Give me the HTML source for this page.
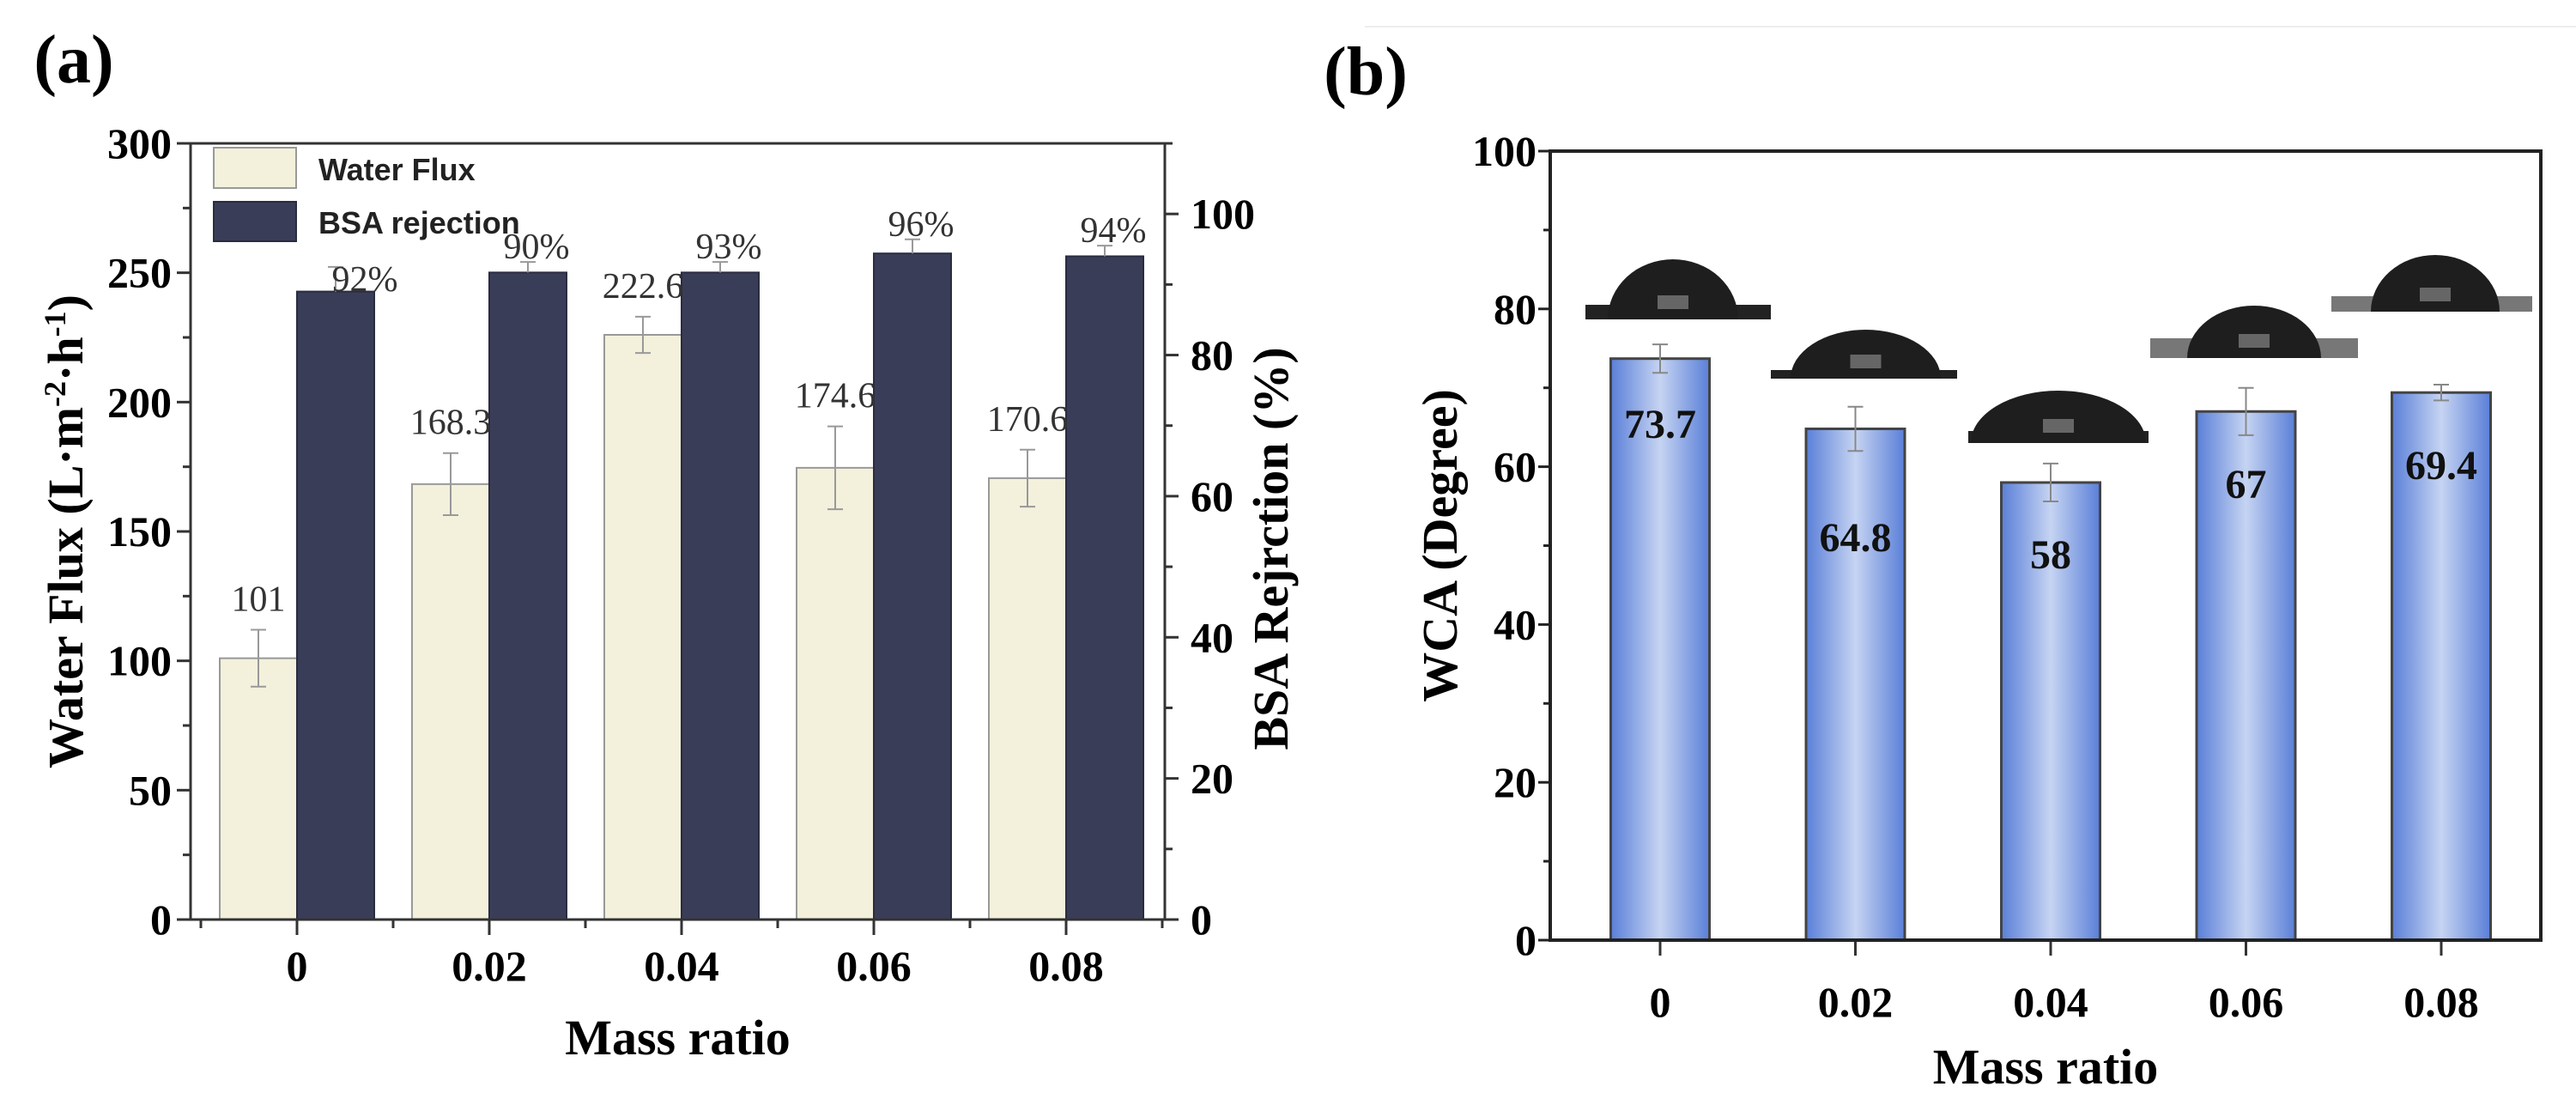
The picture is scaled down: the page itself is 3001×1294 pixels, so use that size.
<!DOCTYPE html>
<html><head><meta charset="utf-8"><style>
html,body{margin:0;padding:0;background:#fff}
svg{display:block}
text{font-family:"Liberation Serif",serif}
</style></head><body>
<svg id="fig" width="3001" height="1294" viewBox="0 0 3001 1294" xmlns="http://www.w3.org/2000/svg">
<defs>
<linearGradient id="barGrad" x1="0" x2="1" y1="0" y2="0">
<stop offset="0" stop-color="#5a7fd8"/><stop offset="0.5" stop-color="#c6d4f2"/><stop offset="1" stop-color="#5a7fd8"/>
</linearGradient>
</defs>
<line x1="1590" y1="31" x2="3001" y2="31" stroke="#eeeeee" stroke-width="2"/>
<g id="pa"></g>
<g id="pb"></g>
</svg>
<script>
// Panel (a) data
const catsA = ["0","0.02","0.04","0.06","0.08"];
const fluxVals = [101, 168.3, 226, 174.6, 170.6];
const fluxErr = [11, 12, 7, 16, 11];
const fluxLabels = ["101","168.3","222.6","174.6","170.6"];
const bsaVals = [89, 91.7, 91.7, 94.4, 94];
const bsaErr = [3.5, 1.5, 1.5, 2, 1.5];
const bsaLabels = ["92%","90%","93%","96%","94%"];
const fluxTicks = [0,50,100,150,200,250,300];
const bsaTicks = [0,20,40,60,80,100];
// Panel (b) data
const catsB = ["0","0.02","0.04","0.06","0.08"];
const wcaVals = [73.7, 64.8, 58, 67, 69.4];
const wcaErr = [1.8, 2.8, 2.4, 3, 1];
const wcaLabels = ["73.7","64.8","58","67","69.4"];
const wcaTicks = [0,20,40,60,80,100];

const NS="http://www.w3.org/2000/svg";
function mk(parent, tag, attrs, txt){const e=document.createElementNS(NS,tag);for(const k in attrs)e.setAttribute(k,attrs[k]);if(txt!==undefined)e.textContent=txt;parent.appendChild(e);return e;}

// ---------- Panel A ----------
(function(){
const g=document.getElementById('pa');
const L=222,R=1357,T=167,B=1071;
const yF=v=>B-(v/300)*(B-T);
const yR=v=>B-(v/110)*(B-T);
const xC=i=>346+i*224;
const bw=90;
let e=mk(g,'text',{x:86,y:96,'font-size':80,'font-weight':'bold','text-anchor':'middle'},'(a)');


catsA.forEach((c,i)=>{
  const x=xC(i);
  let r=mk(g,'rect',{x:x-bw,y:yF(fluxVals[i]),width:bw,height:B-yF(fluxVals[i]),fill:'#f3f0dc',stroke:'#999','stroke-width':2});
  
  
  let r2=mk(g,'rect',{x:x,y:yR(bsaVals[i]),width:bw,height:B-yR(bsaVals[i]),fill:'#3a3d58',stroke:'#2a2c40','stroke-width':2});
  
  
  const fx=x-bw/2, bx=x+bw/2;
  const eb1=mk(g,'path',{d:`M${fx},${yF(fluxVals[i]+fluxErr[i])}V${yF(fluxVals[i]-fluxErr[i])}M${fx-9},${yF(fluxVals[i]+fluxErr[i])}h18M${fx-9},${yF(fluxVals[i]-fluxErr[i])}h18`,stroke:'#999','stroke-width':2,fill:'none'});
  
  
  const eb2=mk(g,'path',{d:`M${bx},${yR(bsaVals[i]+bsaErr[i])}V${yR(bsaVals[i])}M${bx-9},${yR(bsaVals[i]+bsaErr[i])}h18`,stroke:'#999','stroke-width':2,fill:'none'});
  
  
  let t=mk(g,'text',{x:fx,y:yF(fluxVals[i]+fluxErr[i])-22,'font-size':42,'text-anchor':'middle',fill:'#333'},fluxLabels[i]);
  
  
  let t2=mk(g,'text',{x:bx+(i==0?34:10),y:yR(bsaVals[i]+bsaErr[i])+(i==0?28:-4),'font-size':42,'text-anchor':'middle',fill:'#333'},bsaLabels[i]);
  
  
  let xl=mk(g,'text',{x:x,y:1142,'font-size':50,'font-weight':'bold','text-anchor':'middle'},c);
  
  
  mk(g,'line',{x1:x,y1:B,x2:x,y2:B+18,stroke:'#333','stroke-width':3});
  mk(g,'line',{x1:x+112,y1:B,x2:x+112,y2:B+10,stroke:'#333','stroke-width':3});
  if(i==0) mk(g,'line',{x1:x-112,y1:B,x2:x-112,y2:B+10,stroke:'#333','stroke-width':3});
});
let ax=mk(g,'path',{d:`M${L},${T}H${R}V${B}H${L}Z`,fill:'none',stroke:'#333','stroke-width':3});


fluxTicks.forEach((v,i)=>{
  mk(g,'line',{x1:L-16,y1:yF(v),x2:L,y2:yF(v),stroke:'#333','stroke-width':3});
  if(v<300) mk(g,'line',{x1:L-9,y1:yF(v+25),x2:L,y2:yF(v+25),stroke:'#333','stroke-width':3});
  let t=mk(g,'text',{x:L-22,y:yF(v)+17,'font-size':50,'font-weight':'bold','text-anchor':'end'},String(v));
  
  
});
bsaTicks.forEach((v,i)=>{
  mk(g,'line',{x1:R,y1:yR(v),x2:R+16,y2:yR(v),stroke:'#333','stroke-width':3});
  mk(g,'line',{x1:R,y1:yR(v+10),x2:R+9,y2:yR(v+10),stroke:'#333','stroke-width':3});
  let t=mk(g,'text',{x:R+30,y:yR(v)+17,'font-size':50,'font-weight':'bold','text-anchor':'start'},String(v));
  
  
});
let yt=mk(g,'text',{x:0,y:0,'font-size':58,'font-weight':'bold','text-anchor':'middle',transform:`translate(96,${(T+B)/2}) rotate(-90)`});
yt.innerHTML='Water Flux (L·m<tspan baseline-shift="super" font-size="36">-2</tspan>·h<tspan baseline-shift="super" font-size="36">-1</tspan>)';


let yt2=mk(g,'text',{x:0,y:0,'font-size':58,'font-weight':'bold','text-anchor':'middle',transform:`translate(1500,${(T+B)/2+20}) rotate(-90)`},'BSA Rejrction (%)');


let xt=mk(g,'text',{x:(L+R)/2,y:1228,'font-size':58,'font-weight':'bold','text-anchor':'middle'},'Mass ratio');


const lg=mk(g,'g',{});


let l1=mk(lg,'rect',{x:249,y:172,width:96,height:47,fill:'#f3f0dc',stroke:'#999','stroke-width':2});


let l2=mk(lg,'rect',{x:249,y:235,width:96,height:46,fill:'#3a3d58',stroke:'#2a2c40','stroke-width':2});


let lt1=mk(lg,'text',{x:371,y:210,'font-size':36,'font-weight':'bold',style:'font-family:"Liberation Sans",sans-serif',fill:'#222'},'Water Flux');


let lt2=mk(lg,'text',{x:371,y:272,'font-size':36,'font-weight':'bold',style:'font-family:"Liberation Sans",sans-serif',fill:'#222'},'BSA rejection');


})();

// ---------- Panel B ----------
(function(){
const g=document.getElementById('pb');
const L=1806,R=2960,T=176,B=1095;
const y=v=>B-(v/100)*(B-T);
const xC=i=>1934+i*227.5;
const bw=115;
let e=mk(g,'text',{x:1591,y:110,'font-size':80,'font-weight':'bold','text-anchor':'middle'},'(b)');


const drops=[[1847,2063,1873,2025,302,355,372],[2063,2280,2086,2261,384,431,441],[2293,2503,2296,2500,455,502,516],[2505,2747,2548,2704,356,394,417],[2716,2950,2762,2912,297,345,363]];
drops.forEach((d,i)=>{
  const dg=mk(g,'g',{});
  
  
  mk(dg,'rect',{x:d[0],y:d[5],width:d[1]-d[0],height:d[6]-d[5],fill:i>=3?'#777':'#222'});
  const rx=(d[3]-d[2])/2, cx=(d[2]+d[3])/2, ry=d[6]-d[4];
  mk(dg,'path',{d:`M${d[2]},${d[6]}A${rx},${ry} 0 0 1 ${d[3]},${d[6]}Z`,fill:'#1e1e1e'});
  mk(dg,'rect',{x:cx-18,y:d[6]-28,width:36,height:16,fill:'#666'});
});
catsB.forEach((c,i)=>{
  const x=xC(i);
  let r=mk(g,'rect',{x:x-bw/2,y:y(wcaVals[i]),width:bw,height:B-y(wcaVals[i]),fill:'url(#barGrad)',stroke:'#444','stroke-width':3});
  
  
  const eb=mk(g,'path',{d:`M${x},${y(wcaVals[i]+wcaErr[i])}V${y(wcaVals[i]-wcaErr[i])}M${x-9},${y(wcaVals[i]+wcaErr[i])}h18M${x-9},${y(wcaVals[i]-wcaErr[i])}h18`,stroke:'#888','stroke-width':2,fill:'none'});
  
  
  const ly=[510,642,662,580,558][i];
  let t=mk(g,'text',{x:x,y:ly,'font-size':48,'font-weight':'bold','text-anchor':'middle',fill:'#111'},wcaLabels[i]);
  
  
  mk(g,'line',{x1:x,y1:B,x2:x,y2:B+18,stroke:'#333','stroke-width':3});
  let xl=mk(g,'text',{x:x,y:1184,'font-size':50,'font-weight':'bold','text-anchor':'middle'},c);
  
  
});
let ax=mk(g,'path',{d:`M${L},${T}H${R}V${B}H${L}Z`,fill:'none',stroke:'#222','stroke-width':4});


wcaTicks.forEach((v,i)=>{
  mk(g,'line',{x1:L-14,y1:y(v),x2:L,y2:y(v),stroke:'#222','stroke-width':3});
  if(v<100) mk(g,'line',{x1:L-8,y1:y(v+10),x2:L,y2:y(v+10),stroke:'#222','stroke-width':3});
  let t=mk(g,'text',{x:L-16,y:y(v)+17,'font-size':50,'font-weight':'bold','text-anchor':'end'},String(v));
  
  
});
let yt=mk(g,'text',{x:0,y:0,'font-size':58,'font-weight':'bold','text-anchor':'middle',transform:`translate(1697,${(T+B)/2}) rotate(-90)`},'WCA (Degree)');


let xt=mk(g,'text',{x:(L+R)/2,y:1262,'font-size':58,'font-weight':'bold','text-anchor':'middle'},'Mass ratio');


})();
</script>
</body></html>
